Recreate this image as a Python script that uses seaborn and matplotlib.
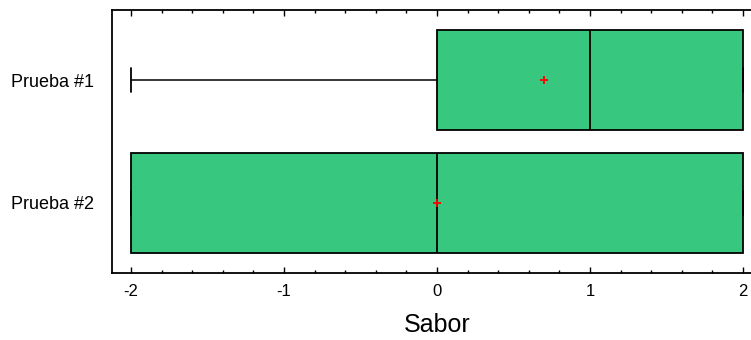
import pandas as pd
import matplotlib
matplotlib.use("Agg")
import matplotlib.pyplot as plt
import seaborn as sns
from matplotlib.ticker import MultipleLocator

# Puntuaciones de sabor (escala -2 .. 2)
prueba_1 = [-2, -1, 0, 0, 1, 1, 2, 2, 2, 2]
prueba_2 = [-2, -2, -2, -2, -1, 1, 2, 2, 2, 2]
categorias = ["Prueba #1", "Prueba #2"]
x_ticks = [-2, -1, 0, 1, 2]

df = pd.DataFrame({
    "Prueba": [categorias[0]] * len(prueba_1) + [categorias[1]] * len(prueba_2),
    "Sabor": prueba_1 + prueba_2,
})

sns.set_style("white")
plt.rcParams["font.family"] = ["Liberation Sans", "DejaVu Sans"]

fig = plt.figure(figsize=(7.51, 3.40), dpi=100)
ax = fig.add_axes([112 / 751, 1 - 273 / 340, 650 / 751, 263 / 340])

sns.boxplot(data=df, x="Sabor", y="Prueba", orient="h", order=categorias,
            color="#38C77E", linecolor="black", linewidth=1.3, width=0.81,
            saturation=1, whis=3, showmeans=True, capwidths=0.2,
            meanprops=dict(marker="+", markeredgecolor="red",
                           markerfacecolor="red", markersize=6,
                           markeredgewidth=1.3),
            whiskerprops=dict(linewidth=1.1),
            capprops=dict(linewidth=1.3),
            ax=ax)

ax.set_xlim(-2 - 19 / 153, 2 + 19 / 153)
ax.set_ylim(1.57, -0.57)
ax.set_xticks(x_ticks)
ax.set_xticklabels([str(t) for t in x_ticks])
ax.xaxis.set_minor_locator(MultipleLocator(0.2))
ax.tick_params(axis="x", which="both", direction="in", top=True,
               bottom=True, colors="black", labelsize=12, pad=8)
ax.tick_params(axis="x", which="major", length=4, width=1)
ax.tick_params(axis="x", which="minor", length=2, width=1)
ax.tick_params(axis="y", length=0, labelsize=13, pad=13, colors="black")
for s in ax.spines.values():
    s.set_color("black")
    s.set_linewidth(1.3)
ax.set_ylabel("")
ax.set_xlabel("Sabor", fontsize=18, labelpad=10, color="black")

fig.savefig("out.png", dpi=100)
